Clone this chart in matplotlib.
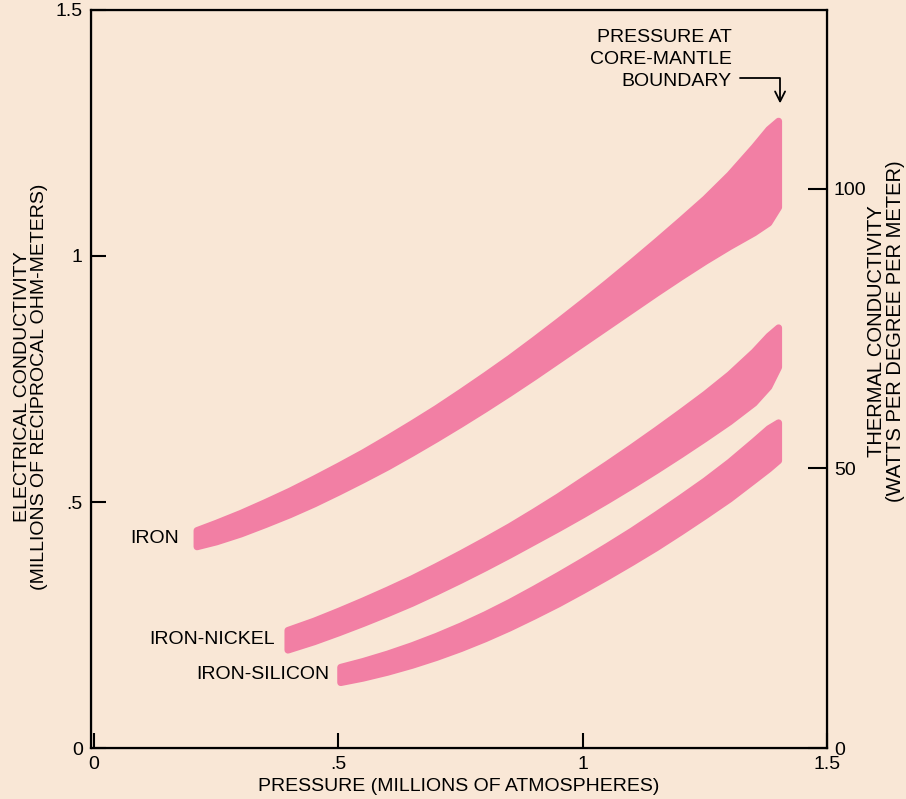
import matplotlib
matplotlib.use("Agg")
import matplotlib.pyplot as plt

plt.rcParams['font.family'] = ['Liberation Sans', 'DejaVu Sans']

# pressure (millions of atmospheres) and band limits (millions of reciprocal ohm-meters)
iron_p = [0.21, 0.25, 0.30, 0.35, 0.40, 0.45, 0.50, 0.55, 0.60, 0.65, 0.70, 0.75, 0.80,
          0.85, 0.90, 0.95, 1.00, 1.05, 1.10, 1.15, 1.20, 1.25, 1.30, 1.35, 1.38, 1.40]
iron_hi = [0.443, 0.458, 0.478, 0.500, 0.523, 0.548, 0.574, 0.601, 0.630, 0.660, 0.691,
           0.724, 0.758, 0.793, 0.830, 0.868, 0.907, 0.947, 0.988, 1.030, 1.073, 1.117,
           1.166, 1.222, 1.258, 1.275]
iron_lo = [0.410, 0.420, 0.436, 0.455, 0.475, 0.497, 0.521, 0.546, 0.572, 0.600, 0.629,
           0.659, 0.690, 0.722, 0.755, 0.789, 0.823, 0.857, 0.891, 0.925, 0.958, 0.990,
           1.020, 1.048, 1.068, 1.100]

nickel_p = [0.396, 0.45, 0.50, 0.55, 0.60, 0.65, 0.70, 0.75, 0.80, 0.85, 0.90, 0.95,
            1.00, 1.05, 1.10, 1.15, 1.20, 1.25, 1.30, 1.35, 1.38, 1.40]
nickel_hi = [0.240, 0.259, 0.279, 0.300, 0.322, 0.345, 0.370, 0.396, 0.423, 0.451, 0.481,
             0.512, 0.545, 0.578, 0.612, 0.647, 0.683, 0.720, 0.760, 0.806, 0.838, 0.855]
nickel_lo = [0.200, 0.217, 0.235, 0.254, 0.274, 0.295, 0.318, 0.342, 0.367, 0.393, 0.420,
             0.447, 0.475, 0.504, 0.534, 0.565, 0.597, 0.630, 0.664, 0.702, 0.735, 0.775]

silicon_p = [0.504, 0.55, 0.60, 0.65, 0.70, 0.75, 0.80, 0.85, 0.90, 0.95, 1.00, 1.05,
             1.10, 1.15, 1.20, 1.25, 1.30, 1.35, 1.38, 1.40]
silicon_hi = [0.165, 0.177, 0.192, 0.209, 0.228, 0.249, 0.272, 0.297, 0.324, 0.352, 0.381,
              0.411, 0.442, 0.475, 0.509, 0.544, 0.582, 0.624, 0.650, 0.662]
silicon_lo = [0.134, 0.143, 0.155, 0.169, 0.185, 0.203, 0.223, 0.245, 0.269, 0.294, 0.321,
              0.349, 0.378, 0.408, 0.440, 0.473, 0.507, 0.545, 0.568, 0.585]

x_ticks = [0, 0.5, 1, 1.5]
x_ticklabels = ["0", ".5", "1", "1.5"]
y_ticks = [0, 0.5, 1, 1.5]
y_ticklabels = ["0", ".5", "1", "1.5"]
thermal_ticks = [0, 50, 100]

bg = '#f9e7d6'
pink = '#f27fa4'
fs = 14

fig = plt.figure(figsize=(9.06, 7.99), dpi=100, facecolor=bg)
ax = fig.add_axes([0.1004, 0.0638, 0.8124, 0.9237])
ax.set_facecolor(bg)

bands = [(iron_p, iron_lo, iron_hi), (nickel_p, nickel_lo, nickel_hi),
         (silicon_p, silicon_lo, silicon_hi)]
for p, lo, hi in bands:
    ax.fill_between(p, lo, hi, facecolor=pink, edgecolor=pink, linewidth=5,
                    joinstyle='round', zorder=2)

ax.set_xlim(-0.006, 1.49)
ax.set_ylim(0, 1.5)
ax.set_xticks(x_ticks)
ax.set_xticklabels(x_ticklabels)
ax.set_yticks(y_ticks)
ax.set_yticklabels(y_ticklabels)
ax.tick_params(direction='in', length=11, width=1.5, labelsize=fs, pad=6)
for s in ax.spines.values():
    s.set_linewidth(1.6)

ax.set_xlabel("PRESSURE (MILLIONS OF ATMOSPHERES)", fontsize=fs, labelpad=3)
ax.set_ylabel("ELECTRICAL CONDUCTIVITY\n(MILLIONS OF RECIPROCAL OHM-METERS)",
              fontsize=fs, linespacing=1.05)
ax.yaxis.set_label_coords(-0.058, 0.49)

ax2 = ax.twinx()
ax2.set_ylim(0, 132)
ax2.set_yticks(thermal_ticks)
ax2.tick_params(direction='in', length=14, width=1.5, labelsize=fs, pad=5)
ax2.set_ylabel("THERMAL CONDUCTIVITY\n(WATTS PER DEGREE PER METER)",
               fontsize=14.5, linespacing=1.0)
ax2.yaxis.set_label_coords(1.054, 0.565)

# labels for the bands
ax.text(0.175, 0.426, "IRON", ha='right', va='center', fontsize=fs)
ax.text(0.37, 0.22, "IRON-NICKEL", ha='right', va='center', fontsize=fs)
ax.text(0.482, 0.149, "IRON-SILICON", ha='right', va='center', fontsize=fs)

ax.text(1.305, 1.346, "PRESSURE AT\nCORE-MANTLE\nBOUNDARY", ha='right', va='baseline',
        fontsize=fs, linespacing=1.38)
ax.annotate('', xy=(1.404, 1.31), xytext=(1.323, 1.362),
            arrowprops=dict(arrowstyle='->', lw=1.3, color='black',
                            connectionstyle='angle,angleA=0,angleB=90,rad=0',
                            shrinkA=0, shrinkB=0, mutation_scale=18))

fig.savefig("out.png", dpi=100, facecolor=bg)
